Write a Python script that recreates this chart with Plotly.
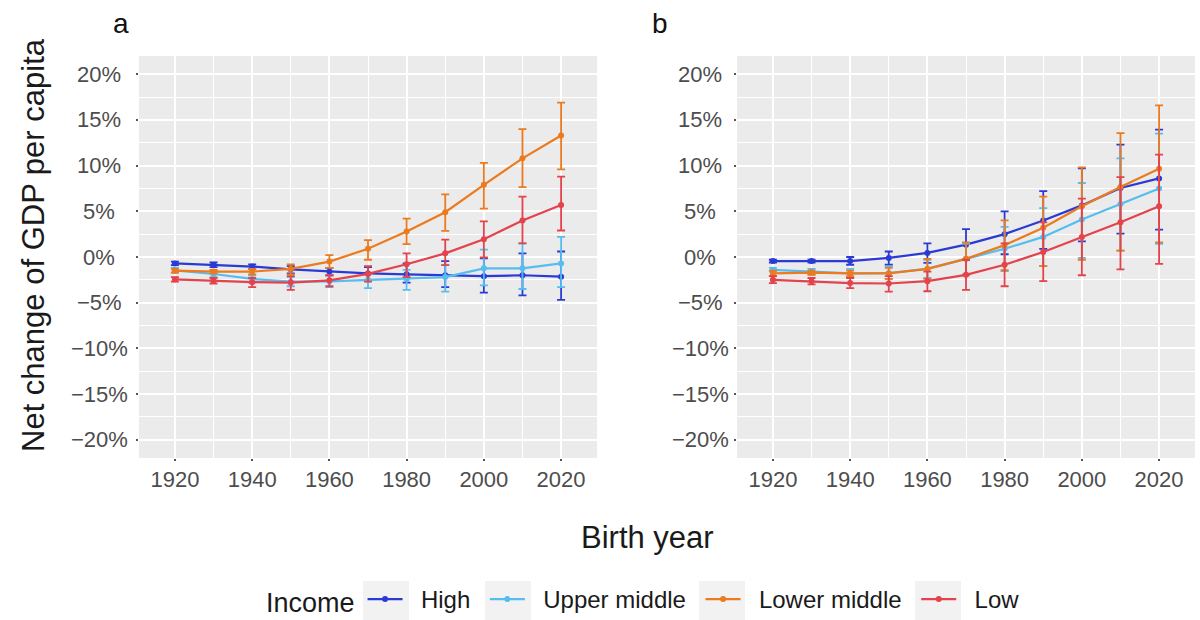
import plotly.graph_objects as go

W, H = 1200, 620

years = [1920, 1930, 1940, 1950, 1960, 1970, 1980, 1990, 2000, 2010, 2020]
groups = ["High", "Upper middle", "Lower middle", "Low"]
colors = ["#2B3AD4", "#56BDF0", "#EC7A1E", "#E4424C"]

# Panel a: estimate, upper bound, lower bound (% change)
high_a = [-0.7, -0.85, -1.05, -1.35, -1.6, -1.8, -1.9, -2.0, -2.1, -2.0, -2.15]
high_a_up = [-0.5, -0.6, -0.8, -1.0, -1.2, -1.1, -0.7, -0.45, -0.15, 0.4, 0.6]
high_a_lo = [-0.9, -1.1, -1.3, -1.8, -2.0, -2.5, -2.8, -3.3, -3.9, -4.2, -4.7]

upper_a = [-1.46, -1.86, -2.4, -2.7, -2.66, -2.5, -2.4, -2.2, -1.24, -1.24, -0.7]
upper_a_up = [-1.2, -1.5, -2.0, -2.2, -2.0, -1.9, -1.4, -0.9, 0.8, 1.5, 2.2]
upper_a_lo = [-1.7, -2.2, -2.8, -3.2, -3.3, -3.4, -3.6, -3.8, -3.1, -3.5, -3.3]

lower_a = [-1.5, -1.6, -1.6, -1.3, -0.5, 0.9, 2.8, 4.9, 7.9, 10.8, 13.3]
lower_a_up = [-1.3, -1.4, -1.3, -0.8, 0.2, 1.85, 4.2, 6.85, 10.3, 14.0, 16.9]
lower_a_lo = [-1.7, -1.8, -1.9, -1.9, -1.2, -0.3, 1.4, 2.85, 5.3, 7.65, 9.6]

low_a = [-2.45, -2.6, -2.75, -2.8, -2.55, -1.85, -0.8, 0.4, 1.95, 4.0, 5.7]
low_a_up = [-2.2, -2.3, -2.3, -2.1, -2.0, -1.0, 0.4, 1.9, 3.9, 6.6, 8.8]
low_a_lo = [-2.7, -2.9, -3.3, -3.6, -3.2, -2.7, -2.2, -0.9, -0.05, 1.5, 2.9]

# Panel b
high_b = [-0.45, -0.45, -0.45, -0.1, 0.45, 1.35, 2.5, 4.0, 5.65, 7.55, 8.6]
high_b_up = [-0.3, -0.3, 0.0, 0.6, 1.5, 3.05, 5.0, 7.2, 9.7, 12.3, 13.95]
high_b_lo = [-0.6, -0.6, -0.85, -0.85, -0.65, -0.35, 0.3, 0.9, 1.7, 2.55, 3.0]

upper_b = [-1.4, -1.6, -1.8, -1.75, -1.3, -0.2, 0.9, 2.2, 4.1, 5.8, 7.5]
upper_b_up = [-1.2, -1.3, -1.3, -1.0, -0.3, 1.45, 3.3, 5.35, 8.1, 10.8, 13.5]
upper_b_lo = [-1.6, -1.9, -2.2, -2.4, -2.3, -1.9, -1.55, -1.0, -0.1, 0.7, 1.45]

lower_b = [-1.8, -1.7, -1.8, -1.8, -1.3, -0.2, 1.3, 3.2, 5.55, 7.65, 9.65]
lower_b_up = [-1.5, -1.5, -1.5, -1.2, -0.2, 1.6, 4.0, 6.6, 9.8, 13.55, 16.6]
lower_b_lo = [-2.1, -1.95, -2.1, -2.4, -2.4, -2.0, -1.45, -1.0, -0.3, 0.7, 1.6]

low_b = [-2.5, -2.65, -2.85, -2.9, -2.65, -1.95, -0.85, 0.55, 2.2, 3.8, 5.55]
low_b_up = [-2.1, -2.3, -2.3, -2.1, -1.6, -0.3, 1.5, 3.8, 6.4, 8.75, 11.2]
low_b_lo = [-2.85, -3.0, -3.4, -3.8, -3.75, -3.6, -3.2, -2.65, -2.0, -1.35, -0.75]

x_ticks = [1920, 1940, 1960, 1980, 2000, 2020]
y_ticks = [20, 15, 10, 5, 0, -5, -10, -15, -20]
y_tick_text = ["20%", "15%", "10%", "5%", "0%", "\u22125%", "\u221210%", "\u221215%", "\u221220%"]

panels = {
    "a": [(high_a, high_a_up, high_a_lo), (upper_a, upper_a_up, upper_a_lo),
          (lower_a, lower_a_up, lower_a_lo), (low_a, low_a_up, low_a_lo)],
    "b": [(high_b, high_b_up, high_b_lo), (upper_b, upper_b_up, upper_b_lo),
          (lower_b, lower_b_up, lower_b_lo), (low_b, low_b_up, low_b_lo)],
}

FONT = "Liberation Sans, Arial, Helvetica, sans-serif"
NB = "\u00a0"
TS = "\u2009"
fig = go.Figure()

for pi, (pname, series) in enumerate(panels.items()):
    xa = "x" if pi == 0 else "x2"
    ya = "y" if pi == 0 else "y2"
    for gi, (vals, up, lo) in enumerate(series):
        fig.add_trace(go.Scatter(
            x=years, y=vals, xaxis=xa, yaxis=ya,
            mode="lines+markers", name=NB * 2 + groups[gi] + TS * 2,
            legendgroup=groups[gi], showlegend=(pi == 0),
            line=dict(color=colors[gi], width=2.2),
            marker=dict(color=colors[gi], size=6),
            error_y=dict(type="data", symmetric=False,
                         array=[u - v for u, v in zip(up, vals)],
                         arrayminus=[v - l for v, l in zip(vals, lo)],
                         color=colors[gi], thickness=1.8, width=4),
        ))


def px_x(p):
    return p / W


def px_y(p):
    return 1 - p / H


xcommon = dict(range=[1910.7, 2029.3], tickvals=x_ticks, showgrid=True, gridcolor="white",
               gridwidth=1.6, zeroline=False, showline=False, ticks="outside", ticklen=2,
               tickwidth=2, tickcolor="#555555",
               tickfont=dict(family=FONT, size=22, color="#4D4D4D"),
               minor=dict(dtick=10, tick0=1910, showgrid=True, gridcolor="white", gridwidth=0.8),
               fixedrange=True)
ycommon = dict(range=[-22, 22], tickvals=y_ticks, showticklabels=False, showgrid=True,
               gridcolor="white", gridwidth=1.6, zeroline=False, showline=False,
               ticks="outside", ticklen=2, tickwidth=2, tickcolor="#555555",
               minor=dict(dtick=2.5, tick0=0, showgrid=True, gridcolor="white", gridwidth=0.8),
               fixedrange=True)

ydom = [px_y(458), px_y(56)]
fig.update_layout(
    width=W, height=H,
    margin=dict(l=0, r=0, t=0, b=0, autoexpand=False),
    paper_bgcolor="white", plot_bgcolor="#EBEBEB",
    font=dict(family=FONT, color="#1A1A1A"),
    xaxis=dict(domain=[px_x(139), px_x(597)], anchor="y", **xcommon),
    yaxis=dict(domain=ydom, anchor="x", **ycommon),
    xaxis2=dict(domain=[px_x(737), px_x(1195)], anchor="y2", **xcommon),
    yaxis2=dict(domain=ydom, anchor="x2", **ycommon),
    legend=dict(orientation="h", x=px_x(264), xanchor="left", y=px_y(600), yanchor="middle",
                title=dict(text="Income", font=dict(size=27, color="#1A1A1A"), side="left"),
                font=dict(size=24, color="#1A1A1A"), itemwidth=35, bgcolor="rgba(0,0,0,0)"),
    showlegend=True,
)

# light grey legend key backgrounds (ggplot style)
key_left_px = [363, 485, 699, 915]
shapes = [dict(type="rect", xref="paper", yref="paper", layer="below",
               x0=px_x(k), x1=px_x(k + 46), y0=px_y(620), y1=px_y(581),
               line=dict(width=0), fillcolor="#F2F2F2") for k in key_left_px]
fig.update_layout(shapes=shapes)

annotations = []
for v, t in zip(y_ticks, y_tick_text):
    annotations.append(dict(x=px_x(99), y=v, xref="paper", yref="y", text=t, showarrow=False,
                            xanchor="center", yanchor="middle",
                            font=dict(family=FONT, size=22, color="#4D4D4D")))
    annotations.append(dict(x=px_x(700), y=v, xref="paper", yref="y2", text=t, showarrow=False,
                            xanchor="center", yanchor="middle",
                            font=dict(family=FONT, size=22, color="#4D4D4D")))

annotations += [
    dict(x=px_x(121), y=px_y(24), xref="paper", yref="paper", text="a", showarrow=False,
         xanchor="center", yanchor="middle", font=dict(size=28, color="#111111")),
    dict(x=px_x(660), y=px_y(24), xref="paper", yref="paper", text="b", showarrow=False,
         xanchor="center", yanchor="middle", font=dict(size=28, color="#111111")),
    dict(x=px_x(647), y=px_y(537), xref="paper", yref="paper", text="Birth year", showarrow=False,
         xanchor="center", yanchor="middle", font=dict(size=31, color="#1A1A1A")),
    dict(x=px_x(33), y=px_y(245), xref="paper", yref="paper", text="Net change of GDP per capita",
         showarrow=False, textangle=-90, xanchor="center", yanchor="middle",
         font=dict(size=31, color="#1A1A1A")),
]
fig.update_layout(annotations=annotations)

fig.write_html("out.html")
